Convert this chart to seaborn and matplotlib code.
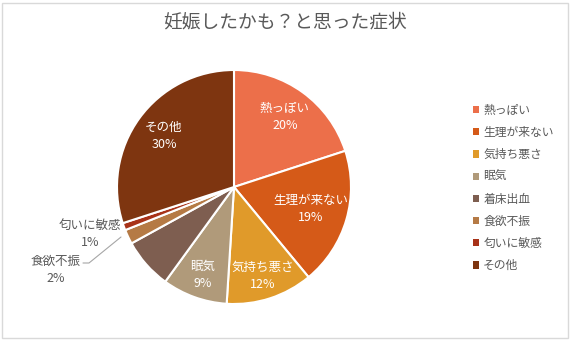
import numpy as np
import matplotlib
matplotlib.use("Agg")
import matplotlib.pyplot as plt
import seaborn as sns
from matplotlib.patches import Rectangle

categories = ["熱っぽい", "生理が来ない", "気持ち悪さ", "眠気", "着床出血", "食欲不振", "匂いに敏感", "その他"]
values = [20, 19, 12, 9, 7, 2, 1, 30]
pct_labels = ["20%", "19%", "12%", "9%", "", "2%", "1%", "30%"]
colors = ["#EC6F4A", "#D55A18", "#E09A2A", "#B09A7A", "#7E5E50", "#B57A45", "#A83218", "#7E3510"]
title = "妊娠したかも？と思った症状"

sns.set_theme(style="white")
plt.rcParams['font.family'] = ['Noto Sans CJK JP', 'DejaVu Sans']

W, H = 570, 341
fig = plt.figure(figsize=(W / 100, H / 100), dpi=100)
fig.patch.set_facecolor("white")

# border
fig.add_artist(Rectangle((2 / W, 3 / H), 566 / W, 335 / H, transform=fig.transFigure,
                         fill=False, edgecolor="#D9D9D9", linewidth=1.0))

cx, cy, r = 234, 187, 117
ax = fig.add_axes([(cx - r) / W, 1 - (cy + r) / H, 2 * r / W, 2 * r / H])
wedges, _ = ax.pie(values, colors=colors, startangle=90, counterclock=False,
                   wedgeprops=dict(edgecolor="white", linewidth=1.5), radius=1.0)
ax.set_xlim(-1, 1)
ax.set_ylim(-1, 1)
ax.set_aspect("auto")
ax.axis("off")

label_r = [0.74, 0.68, 0.80, 0.80, 0.7, 0.7, 0.7, 0.74]
for i, w in enumerate(wedges):
    if i in (4, 5, 6):
        continue
    ang = np.deg2rad((w.theta1 + w.theta2) / 2)
    x = label_r[i] * np.cos(ang)
    y = label_r[i] * np.sin(ang)
    ax.text(x, y, f"{categories[i]}\n{pct_labels[i]}", ha="center", va="center",
            color="white", fontsize=9, linespacing=1.35)

def px(x, y):
    return ((x - cx) / r, -(y - cy) / r)

# outside labels
x, y = px(90, 234)
ax.text(x, y, f"{categories[6]}\n{pct_labels[6]}", ha="center", va="center",
        color="#595959", fontsize=9, linespacing=1.35, clip_on=False)
x, y = px(56, 270)
ax.text(x, y, f"{categories[5]}\n{pct_labels[5]}", ha="center", va="center",
        color="#595959", fontsize=9, linespacing=1.35, clip_on=False)
p1, p2, p3 = px(83, 263), px(89, 263), px(121, 237)
ax.plot([p1[0], p2[0], p3[0]], [p1[1], p2[1], p3[1]], color="#A6A6A6", lw=0.8, clip_on=False)

fig.text(0.5, 1 - 22 / H, title, ha="center", va="center", fontsize=13.5, color="#595959")

handles = [Rectangle((0, 0), 1, 1, facecolor=c, edgecolor="none") for c in colors]
leg = fig.legend(handles, categories, loc="center left", bbox_to_anchor=(462 / W, 1 - 188 / H),
                 frameon=False, fontsize=8.5, handlelength=0.55, handleheight=0.55,
                 handletextpad=0.35, labelspacing=0.78, labelcolor="#595959")

fig.savefig("out.png", dpi=100, facecolor="white")
